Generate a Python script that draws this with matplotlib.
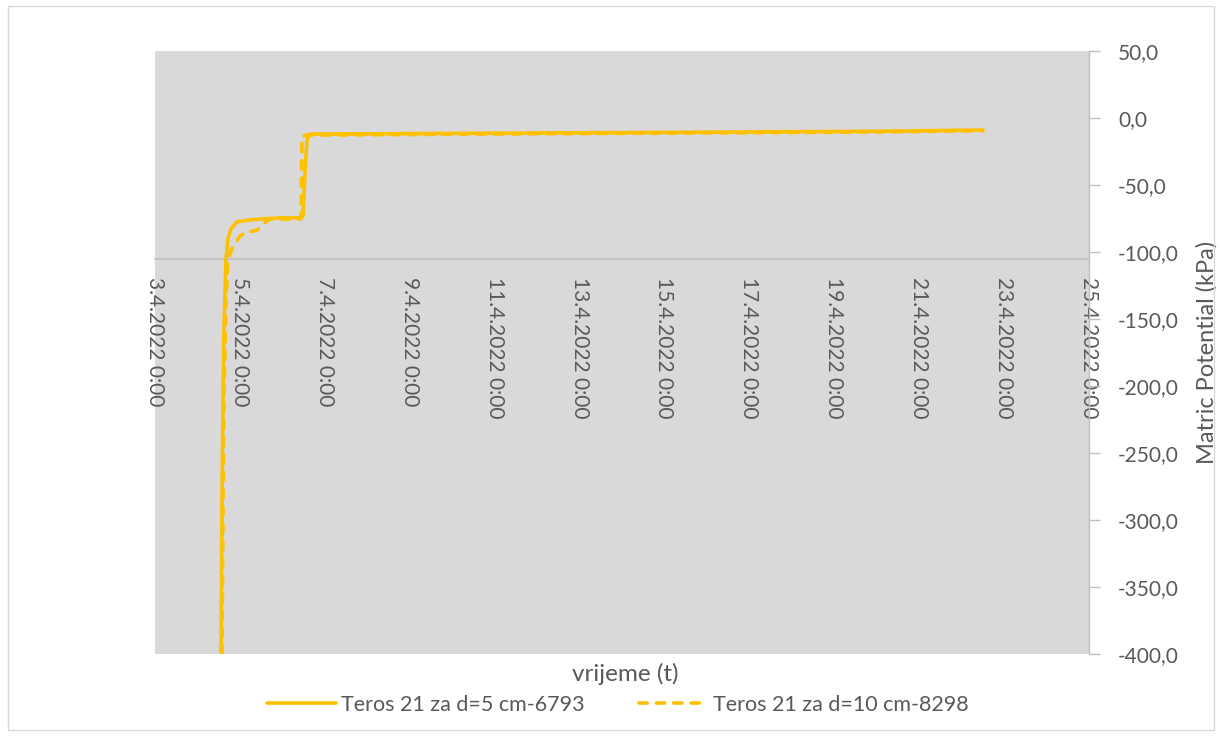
import matplotlib
matplotlib.use("Agg")
import matplotlib.pyplot as plt
import matplotlib.dates as mdates
from matplotlib.ticker import FuncFormatter, MultipleLocator
from matplotlib.patches import Rectangle
import pandas as pd

# ---- data ----
s1_time = ["2022-04-04 13:19", "2022-04-04 13:53", "2022-04-04 14:27", "2022-04-04 15:00",
           "2022-04-04 16:09", "2022-04-04 17:16", "2022-04-04 18:58", "2022-04-04 22:22",
           "2022-04-05 05:43", "2022-04-05 22:41", "2022-04-06 09:59", "2022-04-06 11:40",
           "2022-04-06 12:49", "2022-04-06 13:56", "2022-04-06 15:38", "2022-04-08 00:00",
           "2022-04-11 00:00", "2022-04-14 00:00", "2022-04-17 00:00", "2022-04-20 00:00",
           "2022-04-22 12:00"]
s1_val = [-400.0, -284.0, -209.0, -157.0, -105.0, -90.0, -82.6, -77.4,
          -76.0, -74.5, -74.5, -73.0, -40.0, -16.0, -12.0, -11.8,
          -11.3, -10.9, -10.4, -9.9, -9.0]

s2_time = ["2022-04-04 13:53", "2022-04-04 14:27", "2022-04-04 15:00", "2022-04-04 16:09",
           "2022-04-04 17:16", "2022-04-04 18:24", "2022-04-04 19:32", "2022-04-04 21:14",
           "2022-04-05 00:03", "2022-04-05 04:00", "2022-04-05 09:40", "2022-04-05 13:03",
           "2022-04-05 17:01", "2022-04-06 09:59", "2022-04-06 10:33", "2022-04-06 11:07",
           "2022-04-06 13:22", "2022-04-08 00:00", "2022-04-11 00:00", "2022-04-14 00:00",
           "2022-04-17 00:00", "2022-04-20 00:00", "2022-04-22 12:00"]
s2_val = [-400.0, -284.0, -209.0, -135.0, -106.5, -101.0, -97.5, -93.8,
          -88.0, -85.0, -84.0, -79.0, -75.5, -75.5, -75.0, -14.0,
          -12.8, -12.5, -12.0, -11.5, -11.0, -10.5, -9.5]

series_names = ["Teros 21 za d=5 cm-6793", "Teros 21 za d=10 cm-8298"]
x_title = "vrijeme (t)"
y_title = "Matric Potential (kPa)"

t1 = pd.to_datetime(s1_time)
t2 = pd.to_datetime(s2_time)

gold = "#FFC000"
txt = "#595959"
font = "Lato"

fig = plt.figure(figsize=(12.2, 7.36), dpi=100)
fig.patch.set_facecolor("white")
fig.patches.append(Rectangle((8/1220, 6/736), 1206/1220, 724/736, transform=fig.transFigure,
                             fill=False, edgecolor="#D9D9D9", linewidth=1.0))

ax = fig.add_axes([155/1220, 1 - 654/736, (1089 - 155)/1220, (654 - 51)/736])
ax.set_facecolor("#D9D9D9")

ax.plot(t1, s1_val, color=gold, lw=2.6, solid_capstyle="round", solid_joinstyle="round",
        label=series_names[0])
ax.plot(t2, s2_val, color=gold, lw=2.6, linestyle=(0, (2.3, 2.5)), dash_capstyle="round",
        label=series_names[1])

ax.set_xlim(pd.Timestamp("2022-04-03"), pd.Timestamp("2022-04-25"))
ax.set_ylim(-400, 50)

# spines
for s in ["top", "left"]:
    ax.spines[s].set_visible(False)
ax.spines["bottom"].set_position(("data", -105))
ax.spines["bottom"].set_color("#BFBFBF")
ax.spines["bottom"].set_linewidth(1.2)
ax.spines["bottom"].set_zorder(1)
ax.spines["right"].set_color("#BFBFBF")
ax.spines["right"].set_linewidth(1.0)

ax.xaxis.set_major_locator(mdates.DayLocator(interval=2))
def dfmt(x, pos):
    d = mdates.num2date(x)
    return f"{d.day}.{d.month}.{d.year} {d.hour}:{d.minute:02d}"
ax.xaxis.set_major_formatter(FuncFormatter(dfmt))
ax.tick_params(axis="x", length=0, pad=13, labelsize=15, labelcolor=txt)
for lab in ax.get_xticklabels():
    lab.set_rotation(-90)
    lab.set_va("top")
    lab.set_ha("center")
    lab.set_fontfamily(font)

ax.yaxis.tick_right()
ax.yaxis.set_label_position("right")
ax.yaxis.set_major_locator(MultipleLocator(50))
ax.yaxis.set_major_formatter(FuncFormatter(lambda v, p: f"{v:.1f}".replace(".", ",")))
ax.tick_params(axis="y", length=8, width=1, color="#BFBFBF", pad=13, labelsize=15, labelcolor=txt)
for lab in ax.get_yticklabels():
    lab.set_fontfamily(font)

ax.set_ylabel(y_title, fontsize=17, color=txt, fontfamily=font, labelpad=12)
fig.text(625/1220, 1 - 674/736, x_title, ha="center", va="center", fontsize=17.5,
         color=txt, fontfamily=font)

leg = fig.legend(loc="center", bbox_to_anchor=(618/1220, 1 - 705/736), ncol=2, frameon=False,
                 prop={"family": font, "size": 15.5}, handlelength=3.2, columnspacing=2.5,
                 handletextpad=0.25)
for t in leg.get_texts():
    t.set_color(txt)

fig.savefig("out.png", dpi=100)
